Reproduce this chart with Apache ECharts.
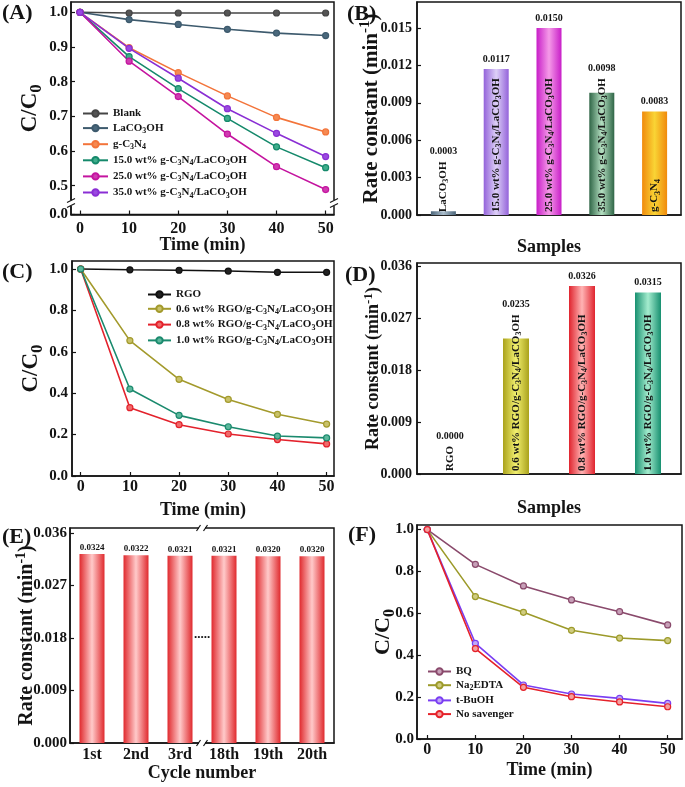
<!DOCTYPE html>
<html>
<head>
<meta charset="utf-8">
<script src="https://cdn.jsdelivr.net/npm/echarts@6/dist/echarts.min.js"></script>
<style>html,body{margin:0;padding:0;background:#fff;}#c{width:685px;height:787px;}</style>
</head>
<body>
<div id="c"></div>
<script>
// ---------- DATA ----------
const timeMin = [0, 10, 20, 30, 40, 50];
const timeTicks = [0, 10, 20, 30, 40, 50];

// (A)
const aNames = ['Blank', 'LaCO₃OH', 'g-C₃N₄', '15.0 wt% g-C₃N₄/LaCO₃OH', '25.0 wt% g-C₃N₄/LaCO₃OH', '35.0 wt% g-C₃N₄/LaCO₃OH'];
const aBlank = [1.000, 0.998, 0.998, 0.998, 0.998, 0.998];
const aLaCO3OH = [1.000, 0.979, 0.965, 0.951, 0.940, 0.933];
const aGC3N4 = [1.000, 0.898, 0.826, 0.759, 0.697, 0.655];
const a15 = [1.000, 0.872, 0.780, 0.694, 0.612, 0.552];
const a25 = [1.000, 0.859, 0.757, 0.649, 0.555, 0.489];
const a35 = [1.000, 0.896, 0.810, 0.722, 0.651, 0.584];
const aYTicks = [0.5, 0.6, 0.7, 0.8, 0.9, 1.0];
const aBreakLabel = '0.0';

// (B)
const bSamples = ['LaCO₃OH', '15.0 wt% g-C₃N₄/LaCO₃OH', '25.0 wt% g-C₃N₄/LaCO₃OH', '35.0 wt% g-C₃N₄/LaCO₃OH', 'g-C₃N₄'];
const bRate = [0.0003, 0.0117, 0.0150, 0.0098, 0.0083];
const bYTicks = [0, 0.003, 0.006, 0.009, 0.012, 0.015];

// (C)
const cNames = ['RGO', '0.6 wt% RGO/g-C₃N₄/LaCO₃OH', '0.8 wt% RGO/g-C₃N₄/LaCO₃OH', '1.0 wt% RGO/g-C₃N₄/LaCO₃OH'];
const cRGO = [1.000, 0.996, 0.994, 0.990, 0.984, 0.984];
const c06 = [1.000, 0.654, 0.467, 0.370, 0.298, 0.251];
const c08 = [1.000, 0.330, 0.248, 0.203, 0.176, 0.155];
const c10 = [1.000, 0.420, 0.293, 0.238, 0.193, 0.184];
const cYTicks = [0, 0.2, 0.4, 0.6, 0.8, 1.0];

// (D)
const dSamples = ['RGO', '0.6 wt% RGO/g-C₃N₄/LaCO₃OH', '0.8 wt% RGO/g-C₃N₄/LaCO₃OH', '1.0 wt% RGO/g-C₃N₄/LaCO₃OH'];
const dRate = [0.0000, 0.0235, 0.0326, 0.0315];
const dYTicks = [0, 0.009, 0.018, 0.027, 0.036];

// (E)
const eCycles = ['1st', '2nd', '3rd', '18th', '19th', '20th'];
const eRate = [0.0324, 0.0322, 0.0321, 0.0321, 0.0320, 0.0320];
const eYTicks = [0, 0.009, 0.018, 0.027, 0.036];

// (F)
const fNames = ['BQ', 'Na₂EDTA', 't-BuOH', 'No savenger'];
const fBQ = [1.000, 0.834, 0.731, 0.664, 0.608, 0.545];
const fEDTA = [1.000, 0.680, 0.605, 0.519, 0.482, 0.470];
const fTBuOH = [1.000, 0.457, 0.258, 0.215, 0.194, 0.170];
const fNone = [1.000, 0.432, 0.247, 0.202, 0.177, 0.154];
const fYTicks = [0, 0.2, 0.4, 0.6, 0.8, 1.0];

// ---------- STYLE ----------
const FF = '"Liberation Serif","Times New Roman","DejaVu Serif",serif';
const INK = '#141414';
const txt = (size) => ({ fontFamily: FF, fontWeight: 'bold', fontSize: size, color: INK });

// rich-text subscripts / superscripts
const SUBS = '₀₁₂₃₄₅₆₇₈₉';
function segments(s) {
  const segs = []; let cur = '', mode = 'n';
  for (const ch of s) {
    let m, c;
    const si = SUBS.indexOf(ch);
    if (si >= 0) { m = 's'; c = String(si); }
    else if (ch === '⁻') { m = 'p'; c = '-'; }
    else if (ch === '¹') { m = 'p'; c = '1'; }
    else { m = 'n'; c = ch; }
    if (m !== mode && cur) { segs.push([mode, cur]); cur = ''; }
    mode = m; cur += c;
  }
  if (cur) segs.push([mode, cur]);
  return segs;
}
const toRich = s => segments(s).map(([m, c]) => '{' + m + '|' + c + '}').join('');
function richStyles(fs) {
  const base = { fontFamily: FF, fontWeight: 'bold', color: INK };
  const small = Math.round(fs * 0.72);
  return {
    n: Object.assign({ fontSize: fs, verticalAlign: 'middle', lineHeight: Math.round(fs * 1.3) }, base),
    s: Object.assign({ fontSize: small, verticalAlign: 'bottom', lineHeight: small }, base),
    p: Object.assign({ fontSize: small, verticalAlign: 'top', lineHeight: small }, base)
  };
}
const richText = fs => Object.assign(txt(fs), { rich: richStyles(fs) });

const measureCtx = document.createElement('canvas').getContext('2d');
function richWidth(s, fs) {
  let w = 0;
  segments(s).forEach(([m, c]) => {
    measureCtx.font = 'bold ' + (m === 'n' ? fs : Math.round(fs * 0.72)) + 'px ' + FF;
    w += measureCtx.measureText(c).width;
  });
  return w;
}

const chart = echarts.init(document.getElementById('c'), null, { width: 685, height: 787 });

const grids = [
  { left: 71, top: 2, width: 263, height: 212.5 },
  { left: 417, top: 2, width: 264, height: 213 },
  { left: 72, top: 261, width: 262, height: 215 },
  { left: 417, top: 263, width: 264, height: 211 },
  { left: 70, top: 528, width: 264, height: 215 },
  { left: 417, top: 525, width: 265, height: 214 }
].map(g => Object.assign({ show: true, borderColor: INK, borderWidth: 1.5, backgroundColor: 'transparent' }, g));

const axLine = { show: true, onZero: false, lineStyle: { color: INK, width: 1.5 } };

function valX(gi, min, max, margin, name, nameGap) {
  return {
    gridIndex: gi, type: 'value', min, max,
    axisLine: axLine,
    axisTick: { show: true, inside: true, length: 4, lineStyle: { color: INK, width: 1.2 }, customValues: timeTicks },
    axisLabel: Object.assign(txt(16), { margin, customValues: timeTicks, formatter: v => String(v) }),
    splitLine: { show: false },
    name, nameLocation: 'middle', nameGap, nameMoveOverlap: false, nameTextStyle: txt(18)
  };
}
function catX(gi, cats, showLabel, margin, name, nameGap) {
  return {
    gridIndex: gi, type: 'category', data: cats,
    axisLine: axLine, axisTick: { show: false },
    axisLabel: Object.assign(txt(16), { show: showLabel, margin, interval: 0 }),
    splitLine: { show: false },
    name, nameLocation: 'middle', nameGap, nameMoveOverlap: false, nameTextStyle: txt(18)
  };
}
function valY(gi, min, max, ticks, fmt, margin, labelSize, name, nameGap, nameSize) {
  return {
    gridIndex: gi, type: 'value', min, max,
    axisLine: axLine,
    axisTick: { show: true, inside: true, length: 4, lineStyle: { color: INK, width: 1.2 }, customValues: ticks },
    axisLabel: Object.assign(txt(labelSize), { margin, customValues: ticks, formatter: fmt }),
    splitLine: { show: false },
    name: toRich(name), nameLocation: 'middle', nameGap, nameMoveOverlap: false, nameTextStyle: richText(nameSize)
  };
}

function lineS(name, ys, color, fill, gi) {
  return {
    type: 'line', name, xAxisIndex: gi, yAxisIndex: gi,
    data: timeMin.map((t, i) => [t, ys[i]]),
    symbol: 'circle', symbolSize: 6, showSymbol: true,
    lineStyle: { color, width: 1.6 },
    itemStyle: { color: fill, borderColor: color, borderWidth: 1.2 },
    emphasis: { disabled: true }
  };
}

const grad = (edge, mid) => ({
  type: 'linear', x: 0, y: 0, x2: 1, y2: 0,
  colorStops: [{ offset: 0, color: edge }, { offset: 0.5, color: mid }, { offset: 1, color: edge }]
});

const bColors = [['#4b6579', '#a9bccb'], ['#9463da', '#ddd0f7'], ['#c81ec8', '#f59ae8'], ['#2f6546', '#b5e0c2'], ['#f08a0c', '#f9d435']];
const dColors = [['#888', '#ccc'], ['#aaa21c', '#f2f070'], ['#e0242e', '#ffb4b4'], ['#179070', '#a4ecce']];
const eColors = ['#e02a2e', '#ffcaca'];

const NAME_FS = 11, VAL_FS = 10;

function barS(gi, names, values, colors, bw) {
  return {
    type: 'bar', xAxisIndex: gi, yAxisIndex: gi, barWidth: bw,
    data: values.map((v, i) => ({ value: v, itemStyle: { color: grad(colors[i][0], colors[i][1]) } })),
    label: Object.assign(richText(NAME_FS), {
      show: true, position: 'insideBottom', rotate: 90, align: 'left', verticalAlign: 'middle', distance: 3,
      formatter: p => toRich(names[p.dataIndex])
    }),
    emphasis: { disabled: true }
  };
}
function valueLabelS(gi, names, values) {
  return {
    type: 'custom', xAxisIndex: gi, yAxisIndex: gi, silent: true, z: 5,
    data: values.map((v, i) => [i, v]),
    renderItem: (params, api) => {
      const i = api.value(0), v = api.value(1);
      const top = api.coord([i, v]);
      const bot = api.coord([i, 0]);
      const textTop = bot[1] - 3 - richWidth(names[params.dataIndex], NAME_FS);
      const y = Math.min(top[1], textTop) - 5;
      return {
        type: 'text', x: top[0], y,
        style: { text: values[params.dataIndex].toFixed(4), fill: INK, fontFamily: FF, fontWeight: 'bold', fontSize: VAL_FS, align: 'center', verticalAlign: 'bottom' }
      };
    }
  };
}

const legendBase = { orient: 'vertical', padding: 0, itemHeight: 8, selectedMode: false, formatter: n => toRich(n), textStyle: richText(11) };

const option = {
  animation: false,
  backgroundColor: '#fff',
  textStyle: { fontFamily: FF },
  grid: grids,
  xAxis: [
    valX(0, -1.83, 51.7, 6, 'Time (min)', 22),
    catX(1, bSamples, false, 4, 'Samples', 23),
    valX(2, -1.77, 51.5, 3, 'Time (min)', 25),
    catX(3, dSamples, false, 4, 'Samples', 25),
    catX(4, eCycles, true, 4, 'Cycle number', 21),
    valX(5, -2.14, 52.98, 3, 'Time (min)', 22)
  ],
  yAxis: [
    valY(0, 0.417, 1.0297, [0.417].concat(aYTicks), v => (v < 0.45 ? aBreakLabel : v.toFixed(1)), 3, 15, 'C/C₀', 26, 23),
    valY(1, 0, 0.01708, bYTicks, v => v.toFixed(3), 5, 14, 'Rate constant (min⁻¹)', 32, 21),
    valY(2, 0, 1.0386, cYTicks, v => v.toFixed(1), 4, 15, 'C/C₀', 26, 23),
    valY(3, 0, 0.0366, dYTicks, v => v.toFixed(3), 5, 14, 'Rate constant (min⁻¹)', 32, 18),
    valY(4, 0, 0.03686, eYTicks, v => v.toFixed(3), 3, 15, 'Rate constant (min⁻¹)', 30, 20),
    valY(5, 0, 1.022, fYTicks, v => v.toFixed(1), 3, 15, 'C/C₀', 19, 22)
  ],
  legend: [
    Object.assign({ left: 82, top: 108, itemWidth: 25, itemGap: 3.6, data: aNames }, legendBase),
    Object.assign({ left: 147, top: 289, itemWidth: 23, itemGap: 3.3, data: cNames }, legendBase),
    Object.assign({ left: 427, top: 666, itemWidth: 23, itemGap: 2.7, data: fNames }, legendBase)
  ],
  series: [
    lineS(aNames[0], aBlank, '#454545', '#555', 0),
    lineS(aNames[1], aLaCO3OH, '#3d5a6d', '#4a687c', 0),
    lineS(aNames[2], aGC3N4, '#f3743a', '#f58a52', 0),
    lineS(aNames[3], a15, '#15896b', '#3fae8c', 0),
    lineS(aNames[4], a25, '#c4149f', '#cf3cb0', 0),
    lineS(aNames[5], a35, '#8a2fd4', '#9a4ae0', 0),

    barS(1, bSamples, bRate, bColors, 25),
    valueLabelS(1, bSamples, bRate),

    lineS(cNames[0], cRGO, '#111', '#222', 2),
    lineS(cNames[1], c06, '#a39a2c', '#c9c26a', 2),
    lineS(cNames[2], c08, '#e3222c', '#f06a6a', 2),
    lineS(cNames[3], c10, '#1b8a6e', '#5cb89c', 2),

    barS(3, dSamples, dRate, dColors, 26),
    valueLabelS(3, dSamples, dRate),

    {
      type: 'bar', xAxisIndex: 4, yAxisIndex: 4, barWidth: 25,
      data: eRate, itemStyle: { color: grad(eColors[0], eColors[1]) },
      label: { show: true, position: 'top', distance: 2, formatter: p => p.value.toFixed(4), fontFamily: FF, fontWeight: 'bold', fontSize: 9, color: INK },
      emphasis: { disabled: true }
    },

    lineS(fNames[0], fBQ, '#8a4a6c', '#c7a0b8', 5),
    lineS(fNames[1], fEDTA, '#9c9a2a', '#d0cc80', 5),
    lineS(fNames[2], fTBuOH, '#7a3ef2', '#c0a8f8', 5),
    lineS(fNames[3], fNone, '#e5222a', '#f4a0a0', 5)
  ]
};

chart.setOption(option);

// ---------- decorations (panel letters, axis breaks) ----------
const g = [];
function vBreak(x, y) {
  g.push({ type: 'rect', shape: { x: x - 5, y: y - 3, width: 10, height: 6 }, style: { fill: '#fff' }, z: 100 });
  g.push({ type: 'line', shape: { x1: x - 4, y1: y - 0.5, x2: x + 4, y2: y - 4.5 }, style: { stroke: INK, lineWidth: 1.2 }, z: 101 });
  g.push({ type: 'line', shape: { x1: x - 4, y1: y + 4.5, x2: x + 4, y2: y + 0.5 }, style: { stroke: INK, lineWidth: 1.2 }, z: 101 });
}
function hBreak(x, y) {
  g.push({ type: 'rect', shape: { x: x - 3, y: y - 3, width: 6, height: 6 }, style: { fill: '#fff' }, z: 100 });
  g.push({ type: 'line', shape: { x1: x - 5.5, y1: y + 3, x2: x - 1.5, y2: y - 3 }, style: { stroke: INK, lineWidth: 1.2 }, z: 101 });
  g.push({ type: 'line', shape: { x1: x + 1.5, y1: y + 3, x2: x + 5.5, y2: y - 3 }, style: { stroke: INK, lineWidth: 1.2 }, z: 101 });
}
const ga = grids[0];
const yBrk = chart.convertToPixel({ yAxisIndex: 0 }, 0.45);
vBreak(ga.left, yBrk);
vBreak(ga.left + ga.width, yBrk);

const ge = grids[4];
const xe = (chart.convertToPixel({ xAxisIndex: 4 }, eCycles[2]) + chart.convertToPixel({ xAxisIndex: 4 }, eCycles[3])) / 2;
hBreak(xe, ge.top);
hBreak(xe, ge.top + ge.height);
g.push({ type: 'text', x: xe, y: chart.convertToPixel({ yAxisIndex: 4 }, 0.0175), style: { text: '.....', fill: INK, fontFamily: FF, fontWeight: 'bold', fontSize: 13, align: 'center', verticalAlign: 'bottom' }, z: 101 });

const letters = [['(A)', 2, 2], ['(B)', 347, 3], ['(C)', 2, 261], ['(D)', 345, 264], ['(E)', 2, 526], ['(F)', 348, 524]];
letters.forEach(([t, x, y]) => g.push({ type: 'text', x, y, style: { text: t, fill: INK, fontFamily: FF, fontWeight: 'bold', fontSize: 22, align: 'left', verticalAlign: 'top' }, z: 102 }));

chart.setOption({ graphic: { elements: g } });
</script>
</body>
</html>
